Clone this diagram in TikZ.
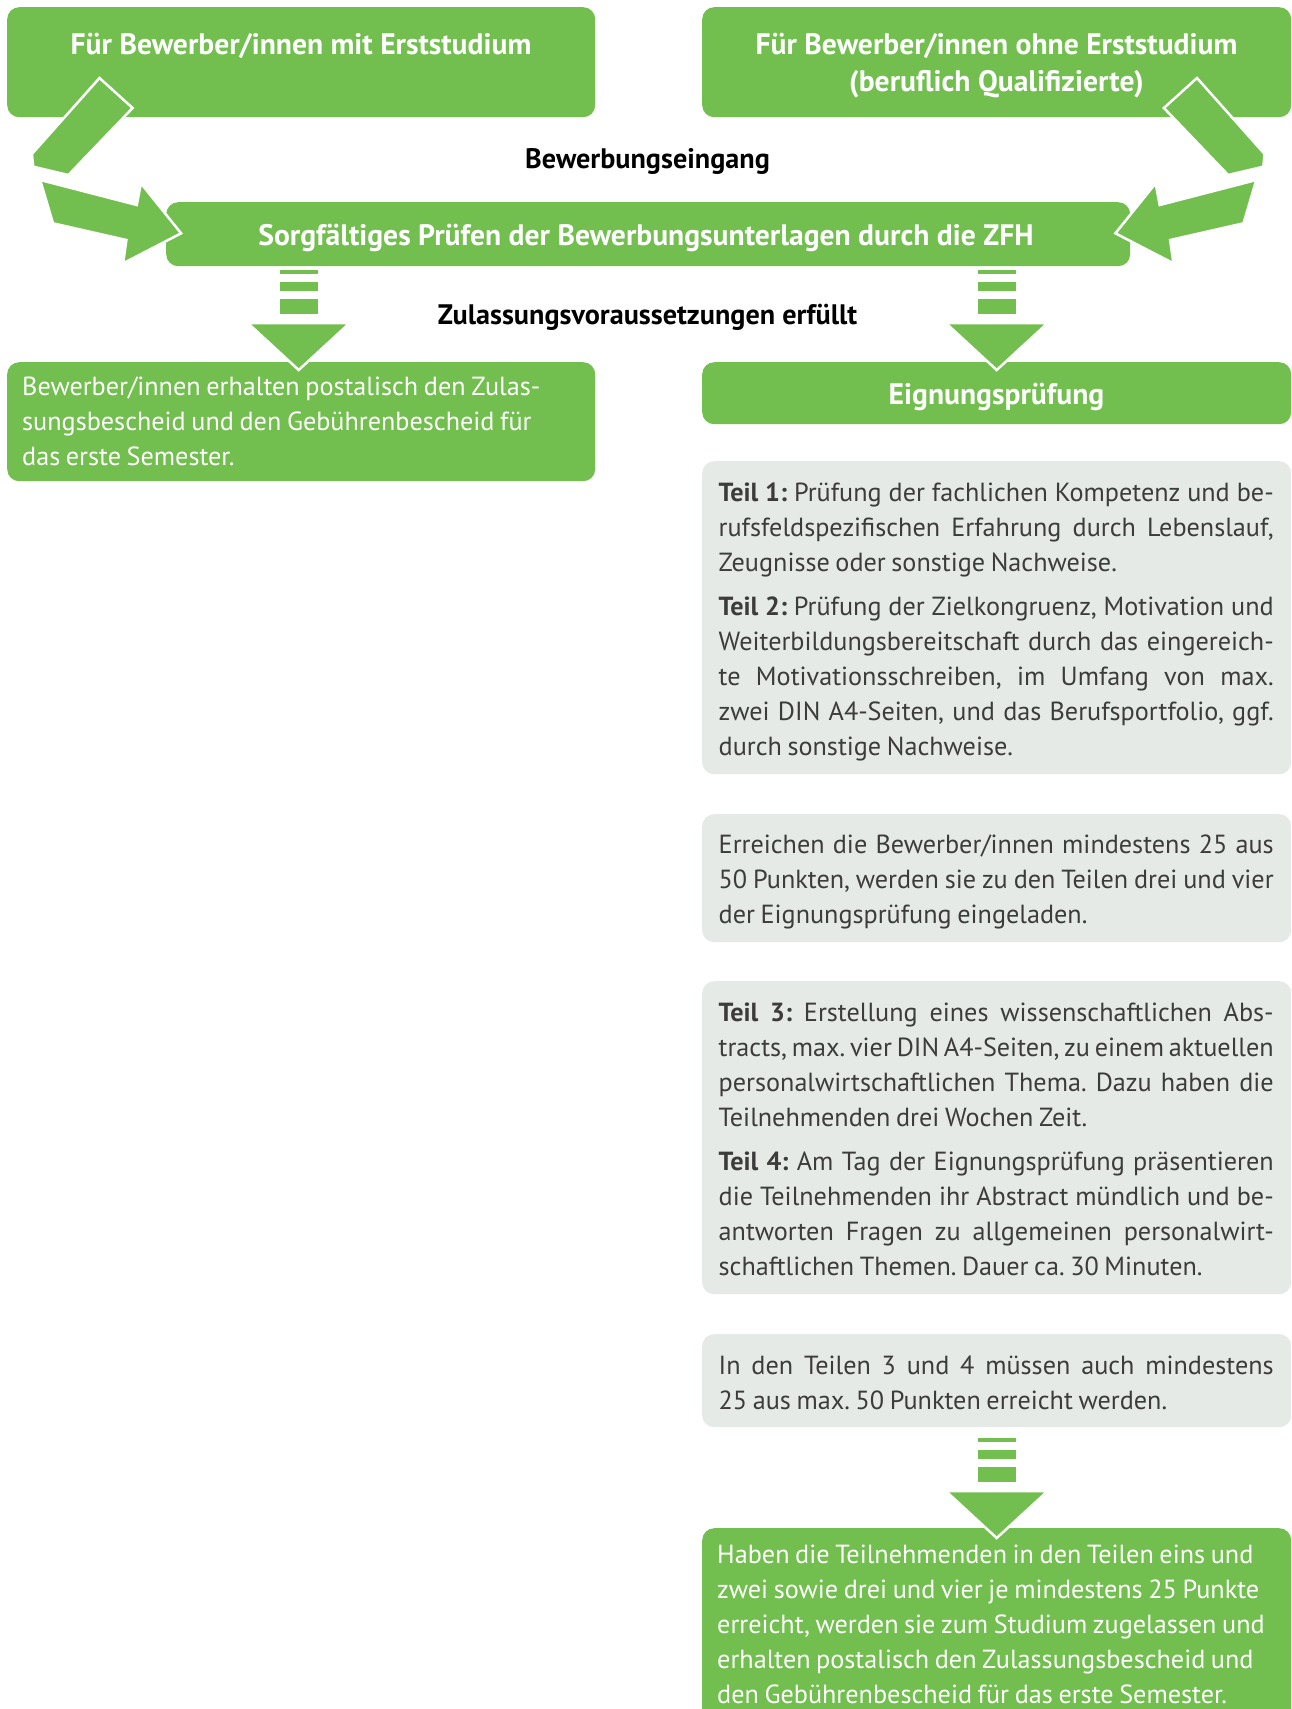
\documentclass[tikz,border=0pt]{standalone}
\usepackage{fontspec}
\setmainfont{PT Sans}
\usetikzlibrary{calc}
\definecolor{zgreen}{RGB}{114,191,79}
\definecolor{zgrey}{RGB}{229,234,230}
\definecolor{ztext}{RGB}{60,60,59}
\newcommand\bodysp{\frenchspacing\spaceskip=0.215em plus 0.08em minus 0.04em\relax\xspaceskip=\spaceskip}
\newcommand\jl[1]{\leavevmode\hbox to 555pt{\spaceskip=0.21em plus 1fil minus 0.05em\relax#1}}
\newcommand\dasharr[3]{%
  \begin{scope}[shift={($(#1.north)+(#2,#3)$)}]
    \fill[zgreen] (-19,-100) rectangle (19,-96);
    \fill[zgreen] (-19,-88) rectangle (19,-79);
    \fill[zgreen] (-19,-71) rectangle (19,-56);
    \filldraw[fill=zgreen,draw=white,line width=2.5pt,line join=miter] (-51,-47) -- (51,-47) -- (0,0) -- cycle;
  \end{scope}}
\begin{document}
\frenchspacing
\begin{tikzpicture}[x=1pt,y=-1pt,
  gbox/.style={fill=zgreen, rounded corners=12pt, anchor=north west, inner sep=0pt},
  ybox/.style={fill=zgrey, rounded corners=12pt, anchor=north west, inner sep=0pt},
  hdr/.style={text=white, font=\fontsize{29.6}{37}\selectfont\bfseries, inner sep=0pt, anchor=base},
  lbl/.style={text=black, font=\fontsize{28.2}{32}\selectfont\bfseries, inner sep=0pt, anchor=base},
  body/.style={text=ztext, font={\fontsize{26.2}{35}\selectfont}, execute at begin node=\bodysp, text width=580pt, inner sep=0pt, anchor=base west},
  wbody/.style={body, text=white},
  bent/.style={fill=zgreen, draw=white, line width=2.5pt, line join=miter}
]
\useasboundingbox (0,0) rectangle (1292,1709);
\clip (0,0) rectangle (1292,1709);
\fill[white] (0,0) rectangle (1292,1709);

% boxes
\node[gbox, minimum width=588pt, minimum height=110pt] (tl) at (7,7) {};
\node[gbox, minimum width=589pt, minimum height=110pt] (tr) at (702,7) {};
\node[gbox, minimum width=964pt, minimum height=64pt] (mid) at (166,202) {};
\node[gbox, minimum width=588pt, minimum height=119pt] (res) at (7,362) {};
\node[gbox, minimum width=589pt, minimum height=62pt] (eig) at (702,362) {};
\node[ybox, minimum width=589pt, minimum height=313pt] (g1) at (702,461) {};
\node[ybox, minimum width=589pt, minimum height=128pt] (g2) at (702,814) {};
\node[ybox, minimum width=589pt, minimum height=313pt] (g3) at (702,981) {};
\node[ybox, minimum width=589pt, minimum height=93pt] (g4) at (702,1334) {};
\node[gbox, minimum width=589pt, minimum height=220pt] (fin) at (702,1528) {};

% bent arrows
\filldraw[bent] (99.5,78) -- (132.6,108) -- (68.4,175) -- (33.2,166.7) -- (31.9,154) -- cycle;
\filldraw[bent] (40.2,180) -- (136.8,205) -- (140.9,183.3) -- (181.1,233.3) -- (123.1,263.3) -- (126.4,240) -- (53,223.3) -- cycle;
\filldraw[bent] (1197,78) -- (1163.9,108) -- (1228.1,175) -- (1263.3,166.7) -- (1264.6,154) -- cycle;
\filldraw[bent] (1256.3,180) -- (1159.7,205) -- (1155.6,183.3) -- (1115.4,233.3) -- (1173.4,263.3) -- (1170.1,240) -- (1243.5,223.3) -- cycle;

% dash arrows
\dasharr{res}{-2.5}{8}
\dasharr{eig}{0}{8}
\dasharr{fin}{0}{10}

% texts
\node[hdr] (tlt) at (301,54) {Für Bewerber/innen mit Erststudium};
\node[hdr] (trt1) at (996.5,54) {Für Bewerber/innen ohne Erststudium};
\node[hdr] (trt2) at (996.5,91) {(beruflich Qualifizierte)};
\node[lbl] (bew) at (647.5,168) {Bewerbungseingang};
\node[hdr] (midt) at (646,245) {Sorgfältiges Prüfen der Bewerbungsunterlagen durch die ZFH};
\node[lbl] (zul) at (647.5,324) {Zulassungsvoraussetzungen erfüllt};
\node[hdr] (eigt) at (996.5,404) {Eignungsprüfung};

\node[wbody] (rest) at (22,395) {Bewerber/innen erhalten postalisch den Zulas-\\
sungsbescheid und den Gebührenbescheid für\\
das erste Semester.};

\node[body] (g1t) at (718.5,501) {\jl{\textbf{Teil 1:} Prüfung der fachlichen Kompetenz und be-}\\
\jl{rufsfeldspezifischen Erfahrung durch Lebenslauf,}\\
Zeugnisse oder sonstige Nachweise.\\[9pt]
\jl{\textbf{Teil 2:} Prüfung der Zielkongruenz, Motivation und}\\
\jl{Weiterbildungsbereitschaft durch das eingereich-}\\
\jl{te Motivationsschreiben, im Umfang von max.}\\
\jl{zwei DIN A4-Seiten, und das Berufsportfolio, ggf.}\\
durch sonstige Nachweise.};

\node[body] (g2t) at (718.5,853) {\jl{Erreichen die Bewerber/innen mindestens 25 aus}\\
\jl{50 Punkten, werden sie zu den Teilen drei und vier}\\
der Eignungsprüfung eingeladen.};

\node[body] (g3t) at (718.5,1021) {\jl{\textbf{Teil 3:} Erstellung eines wissenschaftlichen Abs-}\\
\jl{tracts, max. vier DIN A4-Seiten, zu einem aktuellen}\\
\jl{personalwirtschaftlichen Thema. Dazu haben die}\\
Teilnehmenden drei Wochen Zeit.\\[9pt]
\jl{\textbf{Teil 4:} Am Tag der Eignungsprüfung präsentieren}\\
\jl{die Teilnehmenden ihr Abstract mündlich und be-}\\
\jl{antworten Fragen zu allgemeinen personalwirt-}\\
schaftlichen Themen. Dauer ca. 30 Minuten.};

\node[body] (g4t) at (718.5,1374) {\jl{In den Teilen 3 und 4 müssen auch mindestens}\\
25 aus max. 50 Punkten erreicht werden.};

\node[wbody] (fint) at (717,1563) {Haben die Teilnehmenden in den Teilen eins und\\
zwei sowie drei und vier je mindestens 25 Punkte\\
erreicht, werden sie zum Studium zugelassen und\\
erhalten postalisch den Zulassungsbescheid und\\
den Gebührenbescheid für das erste Semester.};
\end{tikzpicture}
\end{document}
